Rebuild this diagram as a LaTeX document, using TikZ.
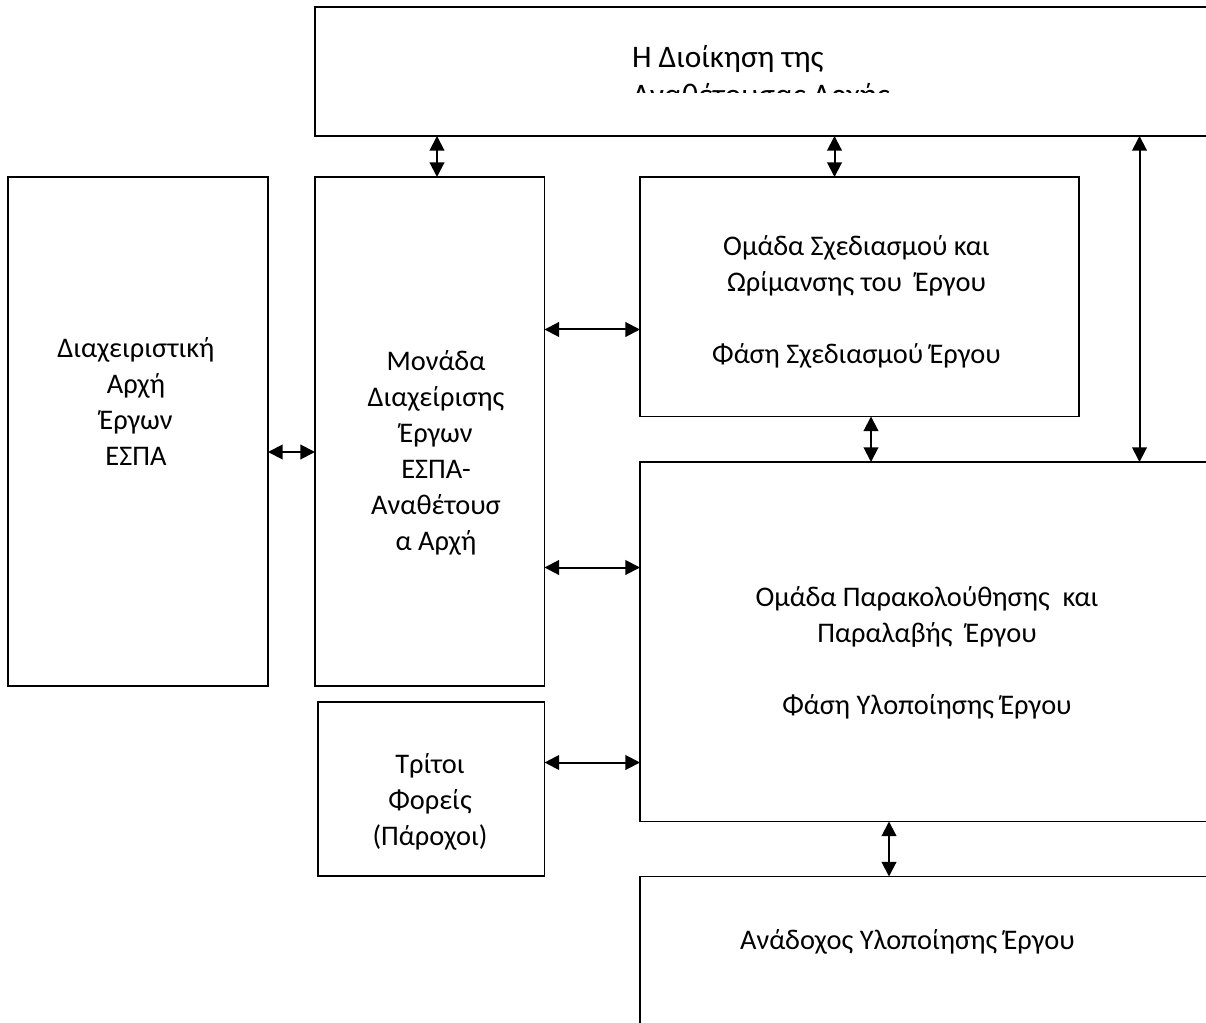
\documentclass[tikz,border=0pt]{standalone}
\usepackage{fontspec}
\setmainfont{Carlito}
\usetikzlibrary{arrows.meta}

\tikzset{
  box/.style={draw, line width=1.1pt, inner sep=0pt, outer sep=0pt, anchor=north west, fill=white},
  txt/.style={inner sep=0pt, outer sep=0pt, anchor=base, font=\fontsize{21.3}{27}\selectfont},
  link/.style={line width=1.5pt, {Triangle[length=11pt,width=11pt]}-{Triangle[length=11pt,width=11pt]}}
}
\newcommand{\lines}[1]{\begin{tabular}[t]{@{}c@{}}#1\end{tabular}}

\begin{document}
\begin{tikzpicture}[x=0.75pt,y=-0.75pt]
  \useasboundingbox (0,0) rectangle (1206,1023);
  \fill[white] (0,0) rectangle (1206,1023);
  \clip (0,0) rectangle (1206,1023);

  % boxes
  \node[box, minimum width=686.25pt, minimum height=96.75pt] (hq) at (315,7) {};
  \node[box, minimum width=195pt, minimum height=381.75pt] (dia) at (8,177) {};
  \node[box, minimum width=172.1pt, minimum height=381.75pt] (mon) at (315,177) {};
  \node[box, minimum width=329.25pt, minimum height=179.6pt] (sxe) at (640,177) {};
  \node[box, minimum width=442.5pt, minimum height=269.6pt] (par) at (640,462) {};
  \node[box, minimum width=169.9pt, minimum height=130.5pt] (tri) at (318,702) {};
  \node[box, minimum width=442.5pt, minimum height=122.6pt] (ana) at (640,876.5) {};

  % labels
  \begin{scope}
    \clip (315,7) rectangle (1230,93);
    \node[txt, anchor=base west, font=\fontsize{23.5}{28.5}\selectfont] (hq-t) at (632,67.7)
      {\begin{tabular}[t]{@{}l@{}}Η Διοίκηση της\\Αναθέτουσας Αρχής\end{tabular}};
  \end{scope}
  \node[txt] (dia-t) at (136,358) {\lines{Διαχειριστική\\Αρχή\\Έργων\\ΕΣΠΑ}};
  \node[txt] (mon-t) at (436,370.7) {\lines{Μονάδα\\Διαχείρισης\\Έργων\\ΕΣΠΑ-\\Αναθέτουσ\\α Αρχή}};
  \node[txt] (sxe-t) at (856.5,256) {\lines{Ομάδα Σχεδιασμού και\\Ωρίμανσης του\ \ Έργου\\[27pt]Φάση Σχεδιασμού Έργου}};
  \node[txt] (par-t) at (927,606) {\lines{Ομάδα Παρακολούθησης\ \ και\\Παραλαβής\ \ Έργου\\[27pt]Φάση Υλοποίησης Έργου}};
  \node[txt] (tri-t) at (430,773) {\lines{Τρίτοι\\Φορείς\\(Πάροχοι)}};
  \node[txt] (ana-t) at (907.5,949) {Ανάδοχος Υλοποίησης Έργου};

  % connectors
  \draw[link] (hq.south -| 437,0) -- (mon.north -| 437,0);
  \draw[link] (hq.south -| 834.5,0) -- (sxe.north -| 834.5,0);
  \draw[link] (hq.south -| 1139.5,0) -- (par.north -| 1139.5,0);
  \draw[link] (sxe.south -| 871,0) -- (par.north -| 871,0);
  \draw[link] (par.south -| 889,0) -- (ana.north -| 889,0);
  \draw[link] (dia.east |- 0,452) -- (mon.west |- 0,452);
  \draw[link] (mon.east |- 0,329.5) -- (sxe.west |- 0,329.5);
  \draw[link] (mon.east |- 0,567.5) -- (par.west |- 0,567.5);
  \draw[link] (tri.east |- 0,762.5) -- (par.west |- 0,762.5);
\end{tikzpicture}
\end{document}
